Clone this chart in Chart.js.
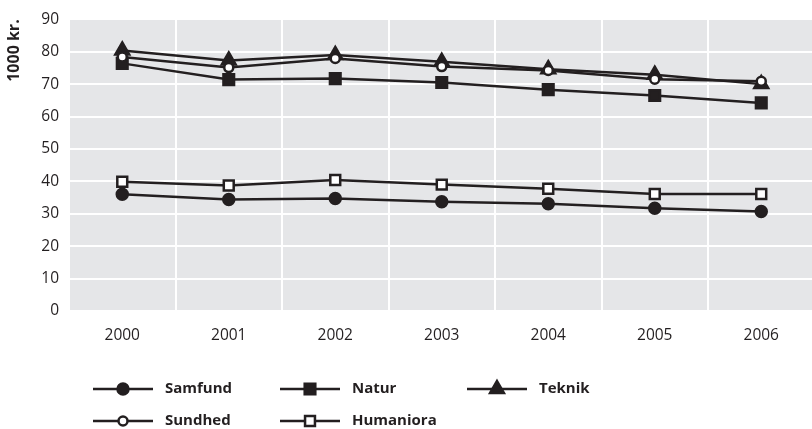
<!DOCTYPE html>
<html>
<head>
<meta charset="utf-8">
<script src="https://cdn.jsdelivr.net/npm/chart.js@4/dist/chart.umd.min.js"></script>
<style>
  html, body { margin: 0; padding: 0; background: #fff; overflow: hidden; }
  #wrap { position: relative; width: 825px; height: 429px; }
</style>
</head>
<body>
<div id="wrap"><canvas id="grafica"></canvas></div>
<script>
// --- Datos ---
const anios = ['2000', '2001', '2002', '2003', '2004', '2005', '2006'];
const samfund   = [36.0, 34.4, 34.7, 33.7, 33.1, 31.7, 30.7];
const natur     = [76.4, 71.4, 71.7, 70.5, 68.3, 66.5, 64.2];
const teknik    = [80.4, 77.3, 79.0, 76.9, 74.6, 72.9, 70.0];
const sundhed   = [78.4, 75.1, 77.9, 75.4, 74.2, 71.5, 70.9];
const humaniora = [39.9, 38.7, 40.4, 39.0, 37.7, 36.1, 36.1];
const yTicks = [0, 10, 20, 30, 40, 50, 60, 70, 80, 90];

const NEGRO = '#231f20';
const FUENTE = "'Open Sans', 'DejaVu Sans', sans-serif";

function serie(label, data, estilo, radio, relleno, orden) {
    return {
        label: label,
        data: data,
        borderColor: NEGRO,
        borderWidth: 2.5,
        tension: 0,
        pointStyle: estilo,
        pointRadius: radio,
        pointHoverRadius: radio,
        pointBackgroundColor: relleno,
        pointBorderColor: NEGRO,
        pointBorderWidth: 2.5,
        order: orden
    };
}

// fondo gris del area de la grafica
const fondoGris = {
    id: 'fondoGris',
    beforeDraw(chart) {
        const a = chart.chartArea;
        const ctx = chart.ctx;
        ctx.save();
        ctx.fillStyle = '#e5e6e8';
        ctx.fillRect(a.left, a.top, a.right - a.left, a.bottom - a.top);
        ctx.restore();
    }
};

// leyenda en 3 columnas x 2 filas
const leyenda = {
    id: 'leyenda',
    afterDraw(chart) {
        const ctx = chart.ctx;
        const colX = [93, 280, 467];
        const filaY = [389, 421];
        chart.data.datasets.forEach((ds, i) => {
            const x0 = colX[i % 3];
            const y = filaY[Math.floor(i / 3)];
            ctx.save();
            ctx.strokeStyle = NEGRO;
            ctx.lineWidth = 2.5;
            ctx.beginPath();
            ctx.moveTo(x0, y);
            ctx.lineTo(x0 + 60, y);
            ctx.stroke();
            ctx.fillStyle = ds.pointBackgroundColor;
            ctx.strokeStyle = NEGRO;
            ctx.lineWidth = 2.5;
            Chart.helpers.drawPoint(ctx, {
                pointStyle: ds.pointStyle,
                radius: ds.pointRadius,
                rotation: 0,
                borderWidth: 2.5
            }, x0 + 30, y);
            ctx.fillStyle = NEGRO;
            ctx.font = "bold 15px " + FUENTE;
            ctx.textBaseline = 'middle';
            ctx.textAlign = 'left';
            ctx.fillText(ds.label, x0 + 72, y);
            ctx.restore();
        });
    }
};

const ctx = document.getElementById('grafica').getContext('2d');
new Chart(ctx, {
    type: 'line',
    data: {
        labels: anios,
        datasets: [
            serie('Samfund', samfund, 'circle', 5.5, NEGRO, 1),
            serie('Natur', natur, 'rect', 7.5, NEGRO, 1),
            serie('Teknik', teknik, 'triangle', 8, NEGRO, 1),
            serie('Sundhed', sundhed, 'circle', 4.5, '#ffffff', 0),
            serie('Humaniora', humaniora, 'rect', 7, '#ffffff', 1)
        ]
    },
    options: {
        responsive: true,
        maintainAspectRatio: false,
        animation: false,
        layout: { padding: { top: 17, right: 0, left: 0, bottom: 0 } },
        plugins: {
            legend: { display: false },
            tooltip: { enabled: false }
        },
        scales: {
            x: {
                offset: true,
                border: { display: false },
                grid: { color: '#ffffff', lineWidth: 2, offset: true, drawTicks: false },
                ticks: { color: NEGRO, font: { family: FUENTE, size: 15.5 }, padding: 15, maxRotation: 0 },
                afterFit: s => { s.height = 118; }
            },
            y: {
                min: 0,
                max: 90,
                border: { display: false },
                grid: { color: '#ffffff', lineWidth: 2, drawTicks: false },
                afterBuildTicks: s => { s.ticks = yTicks.map(v => ({ value: v })); },
                ticks: { color: NEGRO, font: { family: FUENTE, size: 15.5 }, padding: 10 },
                title: {
                    display: true,
                    text: '1000 kr.',
                    align: 'end',
                    color: NEGRO,
                    font: { family: FUENTE, size: 16, weight: 'bold' },
                    padding: { top: 5, bottom: 0 }
                },
                afterFit: s => { s.width = 69; }
            }
        }
    },
    plugins: [fondoGris, leyenda]
});
</script>
</body>
</html>
